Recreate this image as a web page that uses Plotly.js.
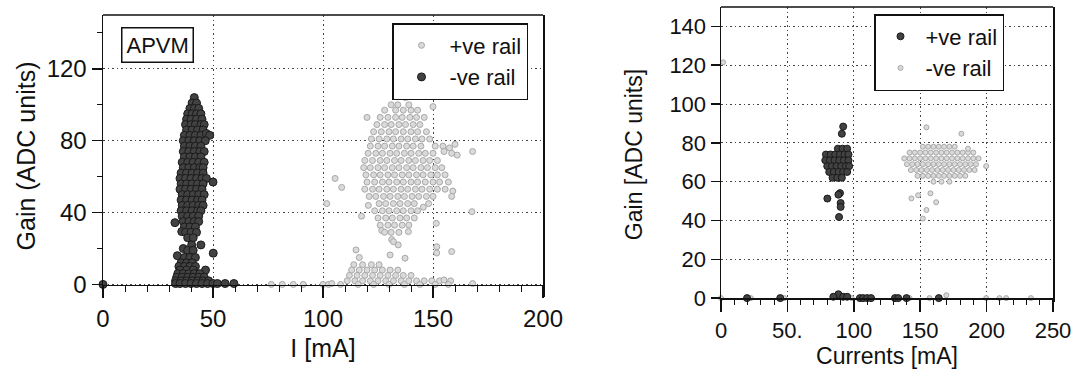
<!DOCTYPE html>
<html>
<head>
<meta charset="utf-8">
<script src="https://cdn.plot.ly/plotly-3.0.1.min.js"></script>
<style>html,body{margin:0;padding:0;background:#fff;}#chart{width:1084px;height:378px;}</style>
</head>
<body>
<div id="chart"></div>
<script>
// ---------- DATA ----------
// Left panel (APVM): I [mA] vs Gain (ADC units)
const leftPosRail = [ // "+ve rail" (light)
  [137.5,104],
  [131,100],[134,100],[139,100],[150,99],
  [128,97],[133,97],[136.5,97],[140,97],[143,97],
  [120,93],[126,93],[129.5,93],[133,93],[136,93],[139.5,93],[142.5,93],[146,93],
  [124.5,89],[128,89],[131,89],[134.5,89],[137.5,89],[141,89],[144,89],
  [123,85],[126.5,85],[130,85],[133,85],[136.5,85],[140,85],[143,85],[147,85],
  [122,81],[125.5,81],[129,81],[132,81],[135.5,81],[138.5,81],[142,81],[145,81],[148.5,81],
  [121.5,77],[125,77],[128,77],[131.5,77],[134.5,77],[138,77],[141,77],[144.5,77],[151,77],[154.5,77],[157.5,76],[160,78],
  [120.5,73],[124,73],[127,73],[130.5,73],[133.5,73],[137,73],[140,73],[143.5,73],[146.5,73],[150,73],[155,74],[158.5,73],[161,72],[168,74],
  [119,69],[122.5,69],[126,69],[129,69],[132.5,69],[135.5,69],[139,69],[142,69],[145.5,69],[148.5,69],[152,69],
  [118.5,65],[121.5,65],[125,65],[128,65],[131.5,65],[134.5,65],[138,65],[141,65],[144.5,65],[147.5,65],[151,65],[154,65],
  [119.5,61],[123,61],[126,61],[129.5,61],[132.5,61],[136,61],[139,61],[142.5,61],[145.5,61],[149,61],[152,61],[155.5,61],
  [105.5,59],[120,57],[123.5,57],[127,57],[130,57],[133.5,57],[136.5,57],[140,57],[143,57],[146.5,57],[150,57],[153,57],[157,57],
  [108.5,54],[119,53],[122.5,53],[125.5,53],[129,53],[132,53],[135.5,53],[138.5,53],[142,53],[145,53],[148.5,53],[152,53],[155.5,53],[159,52],
  [121,49],[124,49],[127.5,49],[130.5,49],[134,49],[137,49],[140.5,49],[143.5,49],[147,49],[150,49],[158.5,49],
  [101.7,45],[120.6,44],[125.5,45],[128.5,45],[132,45],[135,45],[138.5,45],[141.5,45],[145.6,43],[148,45],
  [123.5,41],[127,41],[130,41],[133.5,41],[136.5,41],[140,41],[143,41],[167.7,40.5],
  [117.5,38],[125,37],[128.5,37],[131.5,37],[135,37],[138,37],[141.5,37],
  [126,33],[129.5,33],[132.5,33],[136,33],[139,33],[151.5,34],
  [126.7,30],[128,29],[131,29],[134.5,29],[138.8,29.4],
  [131.2,25],[132,23.8],[134.2,22],[151.7,21],[158.5,18.3],[151.7,17.5],
  [115,19.2],[116.5,15],[130.5,16.4],[137.3,14.6],
  [114,11],[118,11],[122,11],[125.5,11],
  [113,8],[116.5,8],[120,8],[123.5,8],[127,8],[130.5,8],[134,8],
  [112,5],[115.5,5],[119,5],[122.5,5],[126,5],[129.5,5],[133,5],[136.5,5],[140,5],
  [111,2],[114.5,2],[118,2],[121.5,2],[125,2],[128.5,2],[132,2],[135.5,2],[139,2],[142.5,2],[146,2],[149.5,2],[153,2],[155,2.5],[158,2],
  [76.5,0],[81.5,0],[86.5,0],[91,0],[100,0],[102.5,0],[104,0.5],[108,0],[116,0],[123,0],[130,0],[137,0],[144,0],[151,0],[157,0],[168,0.5]
];
const leftNegRail = [ // "-ve rail" (dark)
  [41.5,104],
  [40.5,101],[42.5,101],
  [39.5,98],[41.5,98],[43.5,98],
  [38.5,95],[40.5,95],[42.5,95],[44.5,95],
  [38,92],[40,92],[42.5,92],[45,92],
  [37.5,89],[40,89],[42,89],[44.5,89],[46,89],
  [38,86],[40.5,86],[43,86],[45.5,86],
  [37,83],[39.5,83],[42,83],[44.5,83],[47,84],[48.5,83],
  [36.5,80],[39,80],[41.5,80],[44,80],[46.5,80],
  [37,77],[39.5,77],[42,77],[44.5,77],
  [36.5,74],[39,74],[41.5,74],[44,74],[46,74],
  [37,71],[39.5,71],[42,71],[44.5,71],
  [36,68],[38.5,68],[41,68],[43.5,68],[46,68],
  [36.5,65],[39,65],[41.5,65],[44,65],[45.5,65],
  [35.5,62],[38,62],[40.5,62],[43,62],[45.5,62],
  [35,59],[37.5,59],[40,59],[42.5,59],[45,59],[47,59],
  [50,57],
  [35.5,56],[38,56],[40.5,56],[43,56],[45.5,56],
  [35,53],[37.5,53],[40,53],[42.5,53],[45,53],
  [36,50],[38.5,50],[41,50],[43.5,50],[46,50],
  [35.5,47],[38,47],[40.5,47],[43,47],[45,47],
  [36,44],[38.5,44],[41,44],[43.5,44],[45.5,44],
  [35.5,41],[38,41],[40.5,41],[43,41],[44.5,41],
  [36,38],[38.5,38],[41,38],[43.5,38],
  [36.5,35],[39,35],[41.5,35],[43.5,35],[32.7,34.4],
  [37,32],[39.5,32],[42,32],
  [35.8,29.4],[37.5,29],[40,29],[42.5,29],
  [38.5,26],[41,26],
  [36.5,20],[40.3,22],[44.5,22],
  [38.5,19],[41,19],
  [50.1,17.4],[33.8,16],
  [37,15],[39.5,15],[42,15],
  [35.5,12],[38,12],[40.5,12],
  [34.5,10],[37,10],[39.5,10],[42,10],
  [35,8],[38,8],[41,8],[46.6,8],
  [34,6],[36.5,6],[39,6],[41.5,6],[44,6],
  [33.5,4],[36,4],[38.5,4],[41,4],[43.5,4],[46,4],
  [33,2],[35.5,2],[38,2],[40.5,2],[43,2],[45.5,2],[48,2],
  [33,0.5],[35,0.5],[37.5,0.5],[40,0.5],[42.5,0.5],[45,0.5],[47.5,0.5],[50,0.5],[52,0.5],[55.5,0.5],[59.5,0.5],
  [0,0]
];
// Right panel: Currents [mA] vs Gain [ADC units]
const rightPosRail = [ // "+ve rail" (dark)
  [88,77],[91.5,77],[95,77],
  [79,74],[82.5,74],[86,74],[89.5,74],[93,74],[96,74],
  [78.5,71],[82,71],[85.5,71],[89,71],[92.5,71],[96,71],
  [80,68],[83.5,68],[87,68],[90.5,68],[94,68],[96.5,68],
  [81.5,65],[85,65],[88.5,65],[92,65],[95,65],
  [84,62],[87.5,62],[91,62],
  [92,88.4],[91,84.7],
  [80.1,51.3],[89.6,54.1],[88.4,53.3],[90.1,49],[90.1,47],[88.9,41.8],
  [88.4,2],[84.6,0.7],[92,0.7],[95,0.7],
  [19.6,0],[44.6,0],[104.6,0],[107,0],[110,0],[113,0],[131,0],[133.4,0],[139.7,0],[164,0]
];
const rightNegRail = [ // "-ve rail" (light)
  [152,78],[156,78],[160,78],[164,78],[168,78],[172,78],[176,78],
  [142,75],[146,75],[150,75],[154,75],[158,75],[162,75],[166,75],[170,75],[174,75],[178,75],[182,75],[186,75],[190,75],
  [138,72],[142,72],[146,72],[150,72],[154,72],[158,72],[162,72],[166,72],[170,72],[174,72],[178,72],[182,72],[186,72],[190,72],[194,72],
  [140,69],[144,69],[148,69],[152,69],[156,69],[160,69],[164,69],[168,69],[172,69],[176,69],[180,69],[184,69],[188,69],[192,69],[199.7,68],
  [143,66],[147,66],[151,66],[155,66],[159,66],[163,66],[167,66],[171,66],[175,66],[179,66],[183,66],[187,66],[191,66],
  [148,63],[152,63],[156,63],[160,63],[164,63],[168,63],[172,63],[176,63],[180,63],[184,63],
  [160,60],[166,60],[172,60],
  [154.7,88],[181,84.7],[186,77],
  [143.4,51.4],[148.4,53],[157.7,54],[154.7,45.4],[162,49.4],[152,41],
  [1.6,121.5],
  [0,0],[22.5,0],[47.5,0],[98.4,0],[142,0],[157,0],[169.7,1.5],[199.7,0],[209.7,0],[214.7,0],[233.4,0]
];
const leftXTicks = [0, 50, 100, 150, 200];
const leftXTickText = ['0', '50', '100', '150', '200'];
const rightXTicks = [0, 50, 100, 150, 200, 250];
const rightXTickText = ['0', '50.', '100', '150', '200', '250'];

// ---------- STYLE ----------
const FONT = 'Liberation Sans, Arial, sans-serif';
const INK = '#111111';
const darkMarker = (s) => ({color: '#424242', size: s, line: {color: '#1a1a1a', width: 1}});
const lightMarker = (s) => ({color: '#dadada', size: s, line: {color: '#a8a8a8', width: 1}});

const W = 1084, H = 378;
const fx = (px) => px / W;
const fy = (py) => 1 - py / H;

const xs = (a) => a.map(p => p[0]);
const ys = (a) => a.map(p => p[1]);

const traces = [
  {type: 'scatter', mode: 'markers', name: '+ve rail', x: xs(leftPosRail), y: ys(leftPosRail),
   xaxis: 'x', yaxis: 'y', marker: lightMarker(6), cliponaxis: false, legend: 'legend'},
  {type: 'scatter', mode: 'markers', name: '-ve rail', x: xs(leftNegRail), y: ys(leftNegRail),
   xaxis: 'x', yaxis: 'y', marker: darkMarker(8), cliponaxis: false, legend: 'legend'},
  {type: 'scatter', mode: 'markers', name: '-ve rail', x: xs(rightNegRail), y: ys(rightNegRail),
   xaxis: 'x2', yaxis: 'y2', marker: lightMarker(5), cliponaxis: false, legend: 'legend2', legendrank: 2},
  {type: 'scatter', mode: 'markers', name: '+ve rail', x: xs(rightPosRail), y: ys(rightPosRail),
   xaxis: 'x2', yaxis: 'y2', marker: darkMarker(7), cliponaxis: false, legend: 'legend2', legendrank: 1}
];

const gridCommon = {showgrid: true, gridcolor: '#444', griddash: '1.5px,3px', gridwidth: 1, zeroline: false,
  showline: true, linecolor: INK, linewidth: 1.5, ticks: 'outside', tickcolor: INK, tickwidth: 1.5};

const layout = {
  width: W, height: H,
  margin: {l: 0, r: 0, t: 0, b: 0, pad: 0},
  paper_bgcolor: '#fff', plot_bgcolor: '#fff',
  font: {family: FONT, color: INK},
  showlegend: true,
  xaxis: Object.assign({}, gridCommon, {
    domain: [fx(103), fx(543)], range: [0, 200], anchor: 'free', position: fy(284.5),
    tickvals: leftXTicks, ticktext: leftXTickText, ticklen: 12,
    minor: {dtick: 10, tick0: 0, ticklen: 6, tickwidth: 1, tickcolor: INK, ticks: 'outside', showgrid: false},
    tickfont: {size: 24, family: FONT, color: INK},
    title: {text: 'I [mA]', font: {size: 25, family: FONT, color: INK}, standoff: 8}
  }),
  yaxis: Object.assign({}, gridCommon, {
    domain: [fy(297), fy(15)], range: [-7, 150], anchor: 'x', mirror: true,
    tick0: 0, dtick: 40, ticklen: 10,
    minor: {dtick: 20, tick0: 0, ticklen: 5, tickwidth: 1, tickcolor: INK, ticks: 'outside', showgrid: false},
    tickfont: {size: 24, family: FONT, color: INK},
    title: {text: 'Gain (ADC units)', font: {size: 25, family: FONT, color: INK}, standoff: 4}
  }),
  xaxis2: Object.assign({}, gridCommon, {
    domain: [fx(721), fx(1053)], range: [0, 250], anchor: 'free', position: fy(298),
    tickvals: rightXTicks, ticktext: rightXTickText, ticklen: 12,
    minor: {dtick: 10, tick0: 0, ticklen: 5, tickwidth: 1, tickcolor: INK, ticks: 'outside', showgrid: false},
    tickfont: {size: 22, family: FONT, color: INK},
    title: {text: 'Currents [mA]', font: {size: 23, family: FONT, color: INK}, standoff: 0}
  }),
  yaxis2: Object.assign({}, gridCommon, {
    domain: [fy(302), fy(7)], range: [-2, 150], anchor: 'x2', mirror: true,
    tick0: 0, dtick: 20, ticklen: 9,
    tickfont: {size: 22, family: FONT, color: INK},
    title: {text: 'Gain [ADC units]', font: {size: 23, family: FONT, color: INK}, standoff: 20}
  }),
  legend: {x: fx(392), y: fy(23), xanchor: 'left', yanchor: 'top', bgcolor: '#fff',
    bordercolor: INK, borderwidth: 1.5, font: {size: 22, family: FONT, color: INK},
    itemsizing: 'trace', itemwidth: 46, tracegroupgap: 0},
  legend2: {x: fx(874), y: fy(14), xanchor: 'left', yanchor: 'top', bgcolor: '#fff',
    bordercolor: INK, borderwidth: 1.5, font: {size: 22, family: FONT, color: INK},
    itemsizing: 'trace', itemwidth: 40, tracegroupgap: 0},
  annotations: [
    {text: 'APVM', xref: 'paper', yref: 'paper', x: fx(157), y: fy(45), xanchor: 'center', yanchor: 'middle',
     showarrow: false, font: {size: 22, family: FONT, color: INK}, bordercolor: INK, borderwidth: 1.5, borderpad: 4, bgcolor: '#fff'}
  ],
  shapes: [
    {type: 'line', xref: 'x domain', yref: 'y domain', x0: 0, x1: 1, y0: 1, y1: 1, line: {color: INK, width: 1.5}},
    {type: 'line', xref: 'x2 domain', yref: 'y2 domain', x0: 0, x1: 1, y0: 1, y1: 1, line: {color: INK, width: 1.5}}
  ]
};

Plotly.newPlot('chart', traces, layout, {staticPlot: true, displayModeBar: false});
</script>
</body>
</html>
